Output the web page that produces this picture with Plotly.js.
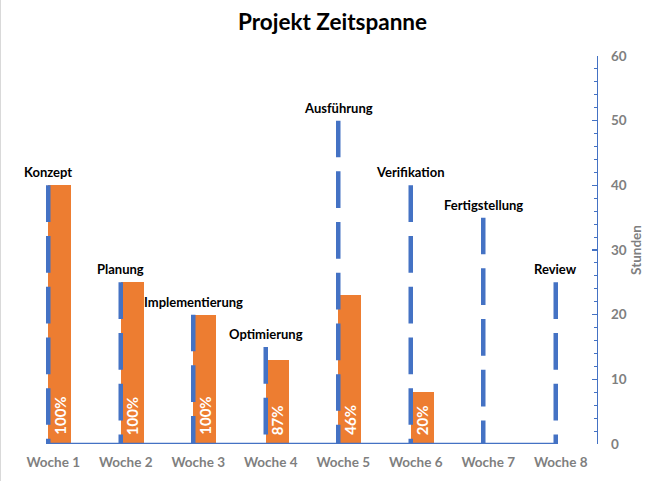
<!DOCTYPE html>
<html>
<head>
<meta charset="utf-8">
<script src="https://cdn.plot.ly/plotly-3.0.1.min.js"></script>
<style>
  html, body { margin: 0; padding: 0; background: #fff; }
  #chart { width: 663px; height: 481px; border-left: 1px solid #d9d9d9; }
</style>
</head>
<body>
<div id="chart"></div>
<script>
// ---- data ----
const weeks = ['Woche 1', 'Woche 2', 'Woche 3', 'Woche 4', 'Woche 5', 'Woche 6', 'Woche 7', 'Woche 8'];
const phases = ['Konzept', 'Planung', 'Implementierung', 'Optimierung', 'Ausführung', 'Verifikation', 'Fertigstellung', 'Review'];
const plannedHours = [40, 25, 20, 15, 50, 40, 35, 25];
const actualHours = [40, 25, 20, 13, 23, 8, 0, 0];
const completion = ['100%', '100%', '100%', '87%', '46%', '20%', '', ''];

// ---- layout helpers ----
const BLUE = '#4472C4';
const ORANGE = '#ED7D31';
const GRAY = '#7F7F7F';
const FONT = 'Lato, "Open Sans", sans-serif';
const lineOffset = -0.069;
const barWidth = 0.317;

const idx = weeks.map((_, i) => i);
const lineX = idx.map(i => i + lineOffset);
const barMid = idx.map(i => i + lineOffset + barWidth / 2);

// dashed vertical lines (top -> bottom so the dash pattern starts at the top)
const dashX = [], dashY = [];
idx.forEach(i => {
  dashX.push(lineX[i], lineX[i], null);
  dashY.push(plannedHours[i], 0, null);
});

const traces = [
  {
    type: 'bar',
    x: idx,
    y: actualHours,
    base: 0,
    offset: lineOffset,
    width: barWidth,
    marker: { color: ORANGE, line: { width: 0 } },
    hoverinfo: 'skip'
  },
  {
    type: 'scatter',
    mode: 'lines',
    x: dashX,
    y: dashY,
    connectgaps: false,
    line: { color: BLUE, width: 4.5, dash: '36.7px,14px' },
    hoverinfo: 'skip'
  },
  {
    type: 'scatter',
    mode: 'lines',
    x: [lineX[0], lineX[lineX.length - 1]],
    y: [0, 0],
    line: { color: BLUE, width: 2.5 },
    hoverinfo: 'skip'
  }
];

const phaseNotes = idx.map(i => ({
  x: lineX[i],
  y: plannedHours[i],
  xref: 'x',
  yref: 'y',
  text: phases[i],
  showarrow: false,
  xanchor: 'center',
  yanchor: 'bottom',
  yshift: 3,
  font: { family: FONT, size: 13, color: '#000000', weight: 'bold' }
}));

const pctNotes = idx.filter(i => completion[i] !== '').map(i => ({
  x: barMid[i],
  y: 0,
  xref: 'x',
  yref: 'y',
  text: completion[i],
  textangle: -90,
  showarrow: false,
  xanchor: 'center',
  yanchor: 'bottom',
  yshift: 7,
  font: { family: FONT, size: 15, color: '#ffffff', weight: 'bold' }
}));

const layout = {
  width: 663,
  height: 481,
  margin: { l: 16, r: 67, t: 56, b: 37 },
  paper_bgcolor: '#ffffff',
  plot_bgcolor: '#ffffff',
  showlegend: false,
  bargap: 0,
  title: {
    text: 'Projekt Zeitspanne',
    xref: 'container',
    yref: 'container',
    x: 0.5,
    y: 0.955,
    xanchor: 'center',
    yanchor: 'middle',
    font: { family: FONT, size: 22.5, color: '#000000', weight: 'bold' }
  },
  xaxis: {
    range: [-0.5, 7.5],
    tickmode: 'array',
    tickvals: idx,
    ticktext: weeks,
    showgrid: false,
    zeroline: false,
    showline: false,
    ticks: '',
    ticklabelstandoff: 8,
    tickfont: { family: FONT, size: 13.5, color: GRAY, weight: 'bold' },
    fixedrange: true
  },
  yaxis: {
    side: 'right',
    range: [0, 60],
    dtick: 10,
    showgrid: false,
    zeroline: false,
    showline: true,
    linecolor: BLUE,
    linewidth: 1.3,
    ticks: 'inside',
    ticklen: 5,
    tickwidth: 1.3,
    tickcolor: BLUE,
    minor: { dtick: 2, ticks: 'inside', ticklen: 3, tickwidth: 1, tickcolor: BLUE, showgrid: false },
    ticklabelstandoff: 10,
    tickfont: { family: FONT, size: 13.5, color: GRAY, weight: 'bold' },
    title: {
      text: 'Stunden',
      standoff: 5,
      font: { family: FONT, size: 13.5, color: GRAY, weight: 'bold' }
    },
    fixedrange: true
  },
  annotations: phaseNotes.concat(pctNotes)
};

Plotly.newPlot('chart', traces, layout, { displayModeBar: false, staticPlot: true });
</script>
</body>
</html>
